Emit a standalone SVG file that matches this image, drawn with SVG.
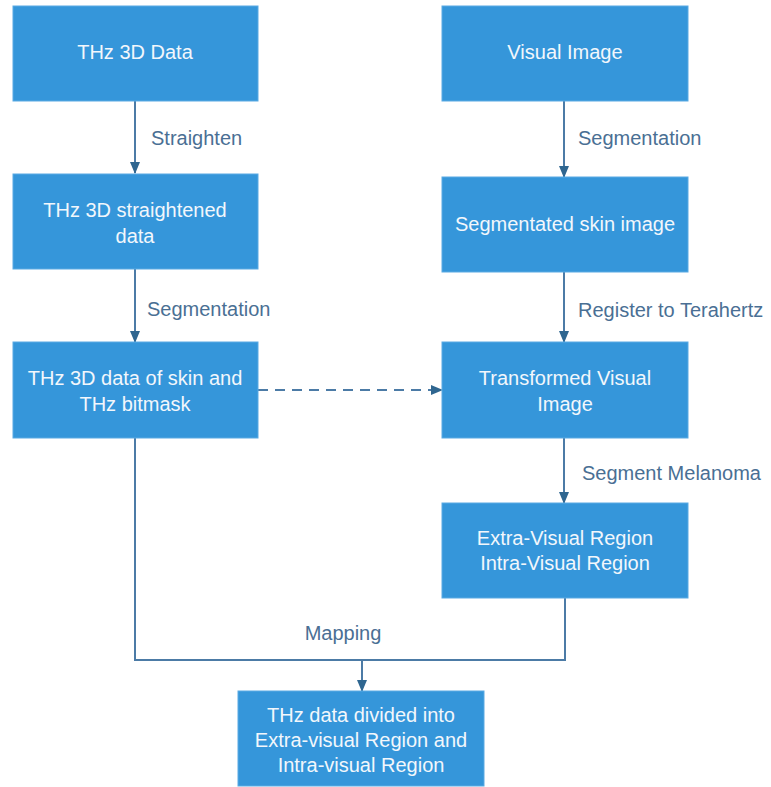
<svg xmlns="http://www.w3.org/2000/svg" width="771" height="787" viewBox="0 0 771 787">
<defs>
<style>
.box{fill:#3596DA;stroke:#5AAAE3;stroke-width:1}
.bt{font-family:"Liberation Sans",Arial,sans-serif;font-size:20px;fill:#F2F7FC;text-anchor:middle}
.lbl{font-family:"Liberation Sans",Arial,sans-serif;font-size:20px;fill:#4A6F94}
.ln{fill:none;stroke:#4C7BA6;stroke-width:2}
</style>
<marker id="ah" markerWidth="12" markerHeight="10" refX="11" refY="5" orient="auto" markerUnits="userSpaceOnUse">
<path d="M0,0 L12,5 L0,10 Z" fill="#2F6690"/>
</marker>
</defs>
<rect width="771" height="787" fill="#FFFFFF"/>
<g id="connectors">
<line class="ln" x1="135" y1="101" x2="135" y2="173" marker-end="url(#ah)"/>
<line class="ln" x1="135" y1="269" x2="135" y2="342" marker-end="url(#ah)"/>
<line class="ln" x1="564" y1="101" x2="564" y2="177" marker-end="url(#ah)"/>
<line class="ln" x1="564" y1="272" x2="564" y2="342" marker-end="url(#ah)"/>
<line class="ln" x1="564" y1="438" x2="564" y2="503" marker-end="url(#ah)"/>
<line class="ln" x1="258" y1="390" x2="442" y2="390" stroke-dasharray="10,7" marker-end="url(#ah)"/>
<polyline class="ln" points="135,438 135,660 565,660 565,598"/>
<line class="ln" x1="362" y1="660" x2="362" y2="691" marker-end="url(#ah)"/>
<text class="lbl" x="151" y="145">Straighten</text>
<text class="lbl" x="147" y="316">Segmentation</text>
<text class="lbl" x="578" y="145">Segmentation</text>
<text class="lbl" x="578" y="317">Register to Terahertz</text>
<text class="lbl" x="582" y="480">Segment Melanoma</text>
<text class="lbl" x="343" y="640" text-anchor="middle">Mapping</text>
</g>
<g id="thz3d">
<rect class="box" x="13" y="6" width="245" height="95"/>
<text class="bt" x="135" y="59">THz 3D Data</text>
</g>
<g id="straightened">
<rect class="box" x="13" y="174" width="245" height="95"/>
<text class="bt" x="135" y="217">THz 3D straightened</text>
<text class="bt" x="135" y="243">data</text>
</g>
<g id="skinmask">
<rect class="box" x="13" y="342" width="245" height="96"/>
<text class="bt" x="135" y="385">THz 3D data of skin and</text>
<text class="bt" x="135" y="411">THz bitmask</text>
</g>
<g id="visual">
<rect class="box" x="442" y="6" width="246" height="95"/>
<text class="bt" x="565" y="59">Visual Image</text>
</g>
<g id="segmented">
<rect class="box" x="442" y="177" width="246" height="95"/>
<text class="bt" x="565" y="231">Segmentated skin image</text>
</g>
<g id="transformed">
<rect class="box" x="442" y="342" width="246" height="96"/>
<text class="bt" x="565" y="385">Transformed Visual</text>
<text class="bt" x="565" y="411">Image</text>
</g>
<g id="regions">
<rect class="box" x="442" y="503" width="246" height="95"/>
<text class="bt" x="565" y="545">Extra-Visual Region</text>
<text class="bt" x="565" y="570">Intra-Visual Region</text>
</g>
<g id="divided">
<rect class="box" x="238" y="691" width="246" height="95"/>
<text class="bt" x="361" y="722">THz data divided into</text>
<text class="bt" x="361" y="747">Extra-visual Region and</text>
<text class="bt" x="361" y="772">Intra-visual Region</text>
</g>
</svg>
